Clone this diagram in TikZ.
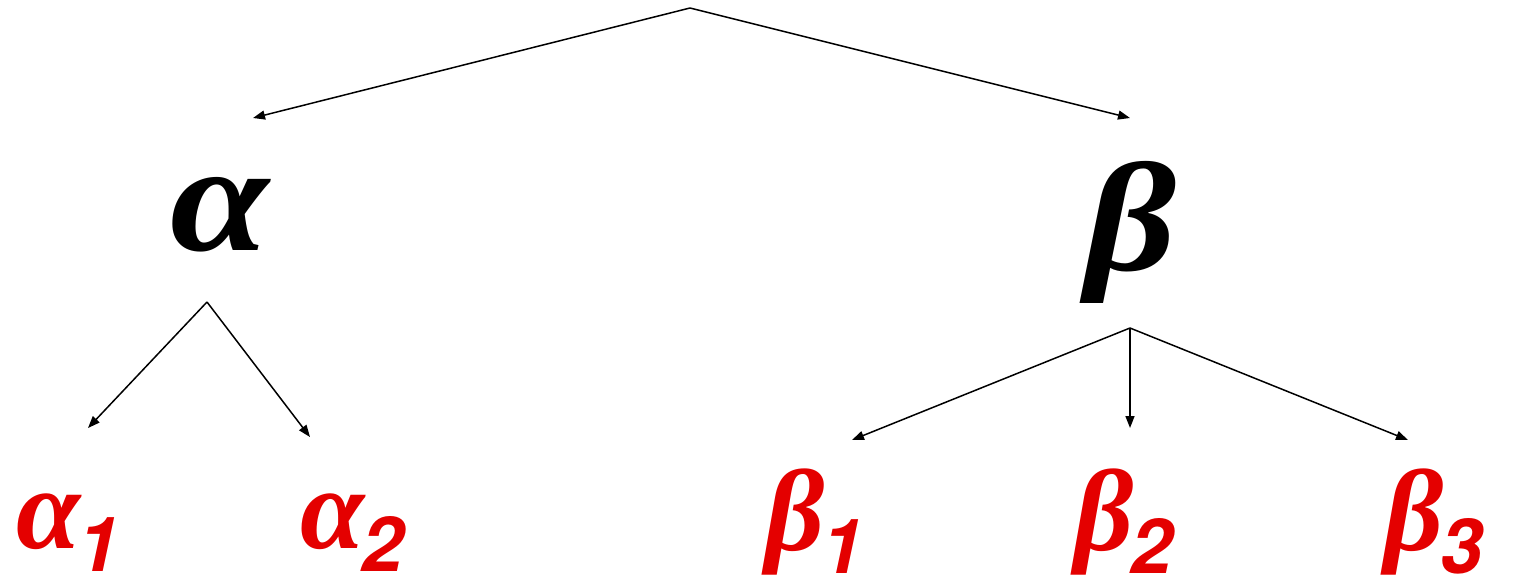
\documentclass[tikz,border=0pt]{standalone}
\usepackage{fontspec}
\setmainfont{Liberation Sans}
\newfontfamily\greekbf{Liberation Serif Bold Italic}[FakeStretch=1.15]
\newfontfamily\greekred{Liberation Serif Bold Italic}
\newfontfamily\digitf{TeX Gyre Heros}
\usetikzlibrary{arrows.meta}
\definecolor{symred}{RGB}{228,0,0}
\tikzset{
  sym/.style={inner sep=0pt, font=\fontsize{155}{155}\greekbf\selectfont},
  leaf/.style={inner sep=0pt, text=symred, font=\fontsize{116}{116}\greekred\selectfont},
  arr/.style={line width=1.5pt, -{Triangle[length=12pt,width=9pt]}}
}
\newcommand{\lowsub}[1]{\kern-3pt\raisebox{-23pt}{\fontsize{76}{76}\digitf\bfseries\itshape #1}}
\begin{document}
\begin{tikzpicture}[x=1pt,y=-1pt]
\useasboundingbox (0,0) rectangle (1515,587);
% top-level nodes
\node[sym, anchor=base west] (a) at (170,250) {α};
\node[sym, anchor=base west] (b) at (1085,270) {β};
% leaves
\node[leaf, anchor=base west] (a1) at (16,548) {α\lowsub{1}};
\node[leaf, anchor=base west] (a2) at (300,548) {α\lowsub{2}};
\node[leaf, anchor=base west] (b1) at (765,550) {β\lowsub{1}};
\node[leaf, anchor=base west] (b2) at (1074,550) {β\lowsub{2}};
\node[leaf, anchor=base west] (b3) at (1384,550) {β\lowsub{3}};
% connector ends
\coordinate (top) at (690,8);
\coordinate (aIn) at (253,118);
\coordinate (bIn) at (1130,118);
\coordinate (aOut) at (207,302);
\coordinate (a1In) at (88,428);
\coordinate (a2In) at (310,437);
\coordinate (bOut) at (1130,328);
\coordinate (b1In) at (852,440);
\coordinate (b2In) at (1130,428);
\coordinate (b3In) at (1408,440);
\draw[arr] (top) -- (aIn);
\draw[arr] (top) -- (bIn);
\draw[arr] (aOut) -- (a1In);
\draw[arr] (aOut) -- (a2In);
\draw[arr] (bOut) -- (b1In);
\draw[arr] (bOut) -- (b2In);
\draw[arr] (bOut) -- (b3In);
\end{tikzpicture}
\end{document}
